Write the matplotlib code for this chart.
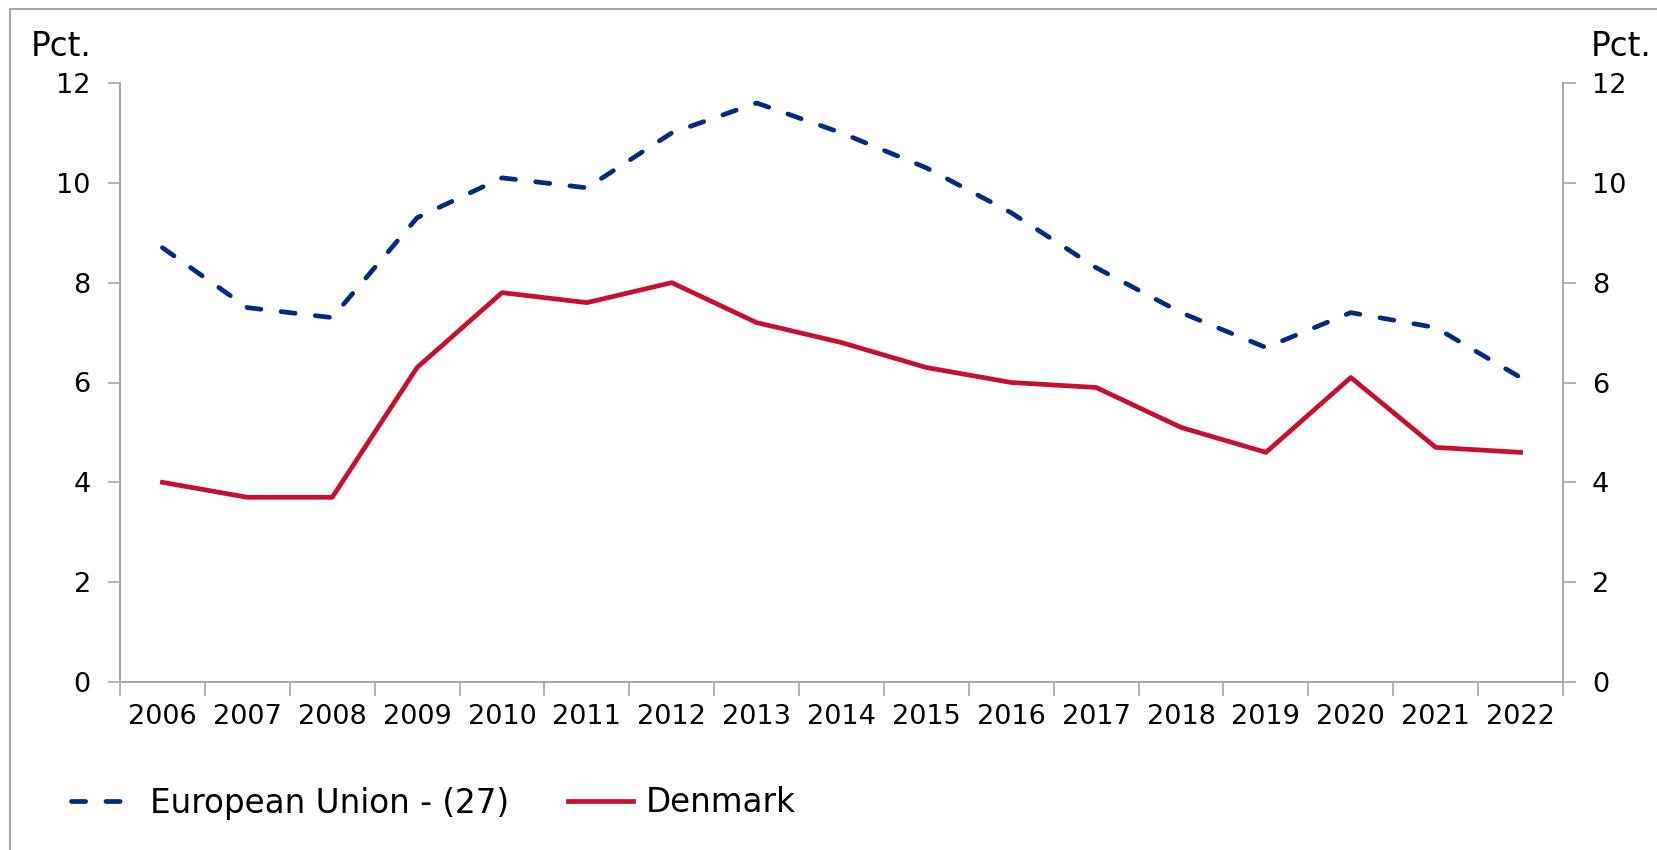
import matplotlib
matplotlib.use("Agg")
import matplotlib.pyplot as plt
from matplotlib.patches import Rectangle

years = ["2006", "2007", "2008", "2009", "2010", "2011", "2012", "2013", "2014",
         "2015", "2016", "2017", "2018", "2019", "2020", "2021", "2022"]
eu27 = [8.7, 7.5, 7.3, 9.3, 10.1, 9.9, 11.0, 11.6, 11.0, 10.3, 9.4, 8.3, 7.4, 6.7, 7.4, 7.1, 6.1]
denmark = [4.0, 3.7, 3.7, 6.3, 7.8, 7.6, 8.0, 7.2, 6.8, 6.3, 6.0, 5.9, 5.1, 4.6, 6.1, 4.7, 4.6]
y_ticks = [0, 2, 4, 6, 8, 10, 12]

plt.rcParams["font.family"] = ["DejaVu Sans"]
plt.rcParams["font.size"] = 19.5

W, H = 1658, 850
fig = plt.figure(figsize=(W / 100, H / 100), dpi=100)
fig.patches.append(Rectangle((10 / W, -0.1), 1.2, 1 - 9 / H + 0.1, transform=fig.transFigure,
                             fill=False, edgecolor="#a6a6a6", linewidth=1.5))

ax = fig.add_axes([120 / W, 1 - 682 / H, (1563 - 120) / W, (682 - 83) / H])
x = list(range(len(years)))

(l_eu,) = ax.plot(x, eu27, color="#002b7f", linewidth=3.4, linestyle=(0, (3.0, 4.3)),
                  dash_capstyle="round", solid_joinstyle="round", label="European Union - (27)")
(l_dk,) = ax.plot(x, denmark, color="#c8102e", linewidth=3.4, solid_joinstyle="round",
                  label="Denmark")

ax.set_xlim(-0.5, len(years) - 0.5)
ax.set_ylim(0, 12)
ax.set_yticks(y_ticks)

# category ticks at the boundaries, labels at the centers
ax.set_xticks([i - 0.5 for i in range(len(years) + 1)])
ax.set_xticklabels([])
ax.set_xticks(x, minor=True)
ax.set_xticklabels(years, minor=True)
ax.tick_params(axis="x", which="major", length=10, width=1.2, color="#a6a6a6", direction="out")
ax.tick_params(axis="x", which="minor", length=0, pad=16)
ax.tick_params(axis="y", length=9, width=1.2, color="#a6a6a6", pad=12)

ax2 = ax.twinx()
ax2.set_ylim(0, 12)
ax2.set_yticks(y_ticks)
ax2.tick_params(axis="y", length=9, width=1.2, color="#a6a6a6", pad=12)

for a in (ax, ax2):
    a.spines["top"].set_visible(False)
    for s in ("left", "right", "bottom"):
        a.spines[s].set_color("#a6a6a6")
        a.spines[s].set_linewidth(1.2)

fig.text(31 / W, 1 - 47 / H, "Pct.", ha="left", va="center", fontsize=23.5)
fig.text(1652 / W, 1 - 47 / H, "Pct.", ha="right", va="center", fontsize=23.5)

fig.legend(handles=[l_eu, l_dk], loc="center left", bbox_to_anchor=(42 / W, 1 - 803 / H),
           ncol=2, frameon=False, handlelength=2.0, handletextpad=0.4, columnspacing=1.8,
           fontsize=23.5)

fig.savefig("out.png", dpi=100)
